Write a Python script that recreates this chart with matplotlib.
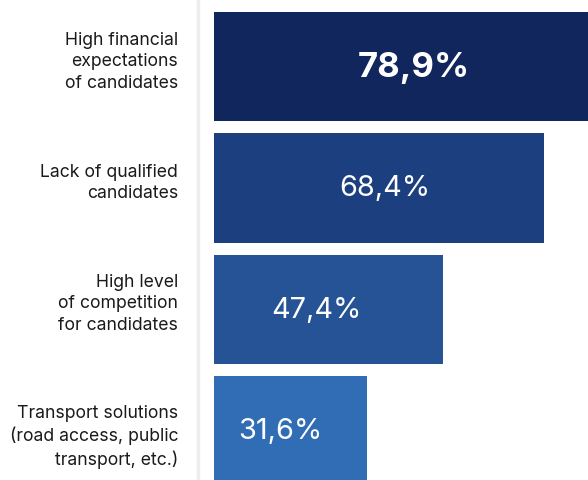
import matplotlib.pyplot as plt
from matplotlib.lines import Line2D

categories = [
    "High financial\nexpectations\nof candidates",
    "Lack of qualified\ncandidates",
    "High level\nof competition\nfor candidates",
    "Transport solutions\n(road access, public\ntransport, etc.)",
]
values = [78.9, 68.4, 47.4, 31.6]
value_labels = ["78,9%", "68,4%", "47,4%", "31,6%"]
colors = ["#10265c", "#1c3f80", "#255396", "#316db4"]

W, H = 588, 481
fig = plt.figure(figsize=(W / 100, H / 100), dpi=100)
fig.patch.set_facecolor("white")

# bars area starts at the left edge of the bars
x0 = 214
ax = fig.add_axes([x0 / W, 0, 1 - x0 / W, 1])
ax.axis("off")

step = 121.3  # pixels per category
top = -0.5 - 7.0 / step
ax.set_ylim(top + H / step, top)
ax.set_xlim(0, (W - x0) / 4.83)

ypos = list(range(len(values)))
ax.barh(ypos, values, height=0.9, color=colors, edgecolor="none")

# value labels sit near the middle of each bar
label_shift = [1.9, 1.1, -2.5, -2.0]
for i, (v, lab) in enumerate(zip(values, value_labels)):
    bold = i == 0
    ax.text(v / 2 + label_shift[i], i, lab,
            ha="center", va="center", color="white",
            fontsize=25 if bold else 20.8,
            fontweight="bold" if bold else "normal",
            family="Inter")

# category labels to the left of the divider
label_y = [62, 183, 304, 437]
for cat, yp in zip(categories, label_y):
    fig.text(178 / W, 1 - yp / H, cat, ha="right", va="center",
             fontsize=12.7, color="#1a1a1a", family="Inter", linespacing=1.37)

fig.add_artist(Line2D([198 / W, 198 / W], [0, 1], color="#eeeeee", lw=2.5,
                      transform=fig.transFigure))

fig.savefig("out.png", dpi=100)
